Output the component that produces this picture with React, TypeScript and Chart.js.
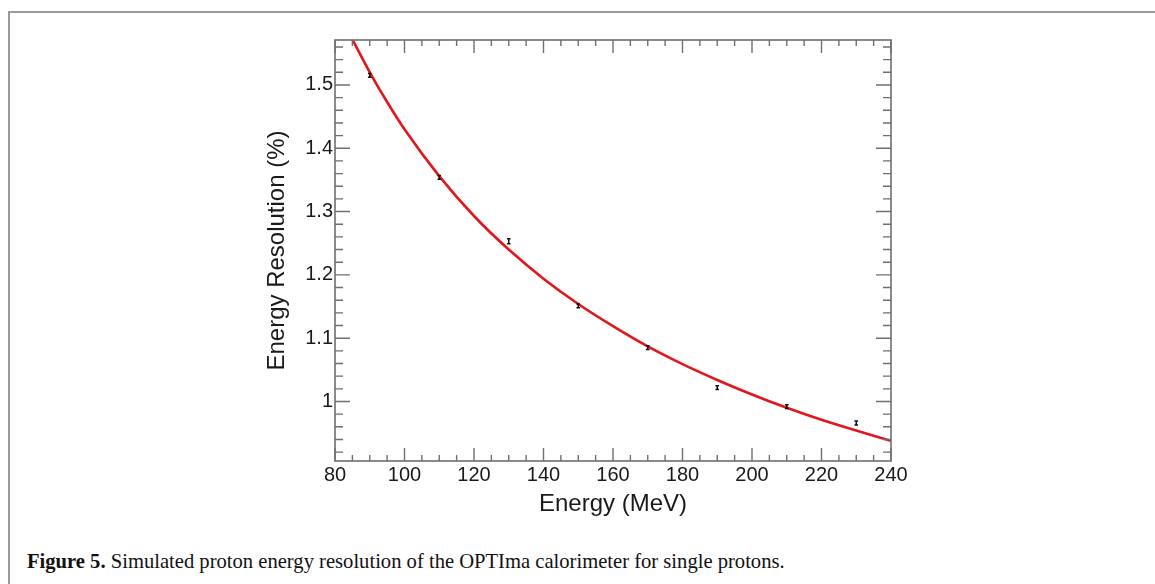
import React, { useEffect, useRef } from "react";
import { Chart, registerables } from "chart.js";

Chart.register(...registerables);

// Simulated points (energy in MeV, resolution in %)
const energies = [90, 110, 130, 150, 170, 190, 210, 230];
const resolution = [1.515, 1.354, 1.253, 1.151, 1.085, 1.022, 0.992, 0.966];
const resolutionErrors = [0.003, 0.003, 0.004, 0.003, 0.003, 0.003, 0.003, 0.003];

// Fit curve
const fitEnergy = [85, 90, 95, 100, 110, 120, 130, 140, 150, 160, 170, 180, 190, 200, 210, 220, 230, 240];
const fitResolution = [1.572, 1.52, 1.473, 1.43, 1.356, 1.293, 1.24, 1.194, 1.154, 1.119, 1.087, 1.059, 1.034, 1.011, 0.99, 0.971, 0.954, 0.938];

// Axis ticks
const xTickValues = [80, 100, 120, 140, 160, 180, 200, 220, 240];
const xTickLabels = ["80", "100", "120", "140", "160", "180", "200", "220", "240"];
const xMinorTicks = [85, 90, 95, 105, 110, 115, 125, 130, 135, 145, 150, 155, 165, 170, 175, 185, 190, 195, 205, 210, 215, 225, 230, 235];
const yTickValues = [1.0, 1.1, 1.2, 1.3, 1.4, 1.5];
const yTickLabels = ["1", "1.1", "1.2", "1.3", "1.4", "1.5"];
const yMinorTicks = [0.92, 0.94, 0.96, 0.98, 1.02, 1.04, 1.06, 1.08, 1.12, 1.14, 1.16, 1.18, 1.22, 1.24, 1.26, 1.28, 1.32, 1.34, 1.36, 1.38, 1.42, 1.44, 1.46, 1.48, 1.52, 1.54, 1.56];

const X_MIN = 80;
const X_MAX = 240;
const Y_MIN = 0.906;
const Y_MAX = 1.571;

const SANS = "'Liberation Sans', Arial, Helvetica, sans-serif";
const FRAME_COLOR = "#6f6f6f";

const framePlugin = {
  id: "rootFrame",
  afterDatasetsDraw(chart: any) {
    const { ctx, chartArea, scales } = chart;
    const xs = scales.x;
    const ys = scales.y;
    const { left, right, top, bottom } = chartArea;
    ctx.save();

    // error bars
    ctx.strokeStyle = "#111";
    ctx.lineWidth = 1.5;
    energies.forEach((e, i) => {
      const px = xs.getPixelForValue(e);
      const y1 = ys.getPixelForValue(resolution[i] - resolutionErrors[i]);
      const y2 = ys.getPixelForValue(resolution[i] + resolutionErrors[i]);
      ctx.beginPath();
      ctx.moveTo(px, y1);
      ctx.lineTo(px, y2);
      ctx.moveTo(px - 1.8, y1);
      ctx.lineTo(px + 1.8, y1);
      ctx.moveTo(px - 1.8, y2);
      ctx.lineTo(px + 1.8, y2);
      ctx.stroke();
    });

    // frame
    ctx.strokeStyle = FRAME_COLOR;
    ctx.lineWidth = 1.6;
    ctx.strokeRect(left, top, right - left, bottom - top);

    // ticks
    ctx.lineWidth = 1.4;
    ctx.beginPath();
    const xTick = (v: number, len: number) => {
      const px = xs.getPixelForValue(v);
      ctx.moveTo(px, bottom);
      ctx.lineTo(px, bottom - len);
      ctx.moveTo(px, top);
      ctx.lineTo(px, top + len);
    };
    const yTick = (v: number, len: number) => {
      const py = ys.getPixelForValue(v);
      ctx.moveTo(left, py);
      ctx.lineTo(left + len, py);
      ctx.moveTo(right, py);
      ctx.lineTo(right - len, py);
    };
    xTickValues.forEach((v) => xTick(v, 13));
    xMinorTicks.forEach((v) => xTick(v, 6));
    yTickValues.forEach((v) => yTick(v, 15));
    yMinorTicks.forEach((v) => yTick(v, 8));
    ctx.stroke();
    ctx.restore();
  },
};

function EnergyChart() {
  const ref = useRef<HTMLCanvasElement | null>(null);
  useEffect(() => {
    if (!ref.current) return;
    const chart = new Chart(ref.current, {
      type: "scatter",
      data: {
        datasets: [
          {
            type: "line",
            data: fitEnergy.map((x, i) => ({ x, y: fitResolution[i] })),
            borderColor: "rgb(226, 22, 28)",
            borderWidth: 2.6,
            pointRadius: 0,
            fill: false,
            cubicInterpolationMode: "monotone",
            clip: 0,
          } as any,
          {
            type: "scatter",
            data: energies.map((x, i) => ({ x, y: resolution[i] })),
            pointRadius: 0,
            backgroundColor: "#111",
          } as any,
        ],
      },
      options: {
        responsive: false,
        animation: false,
        devicePixelRatio: 1,
        layout: { padding: { left: 0, top: 40, right: 264, bottom: 0 } },
        plugins: { legend: { display: false }, tooltip: { enabled: false } },
        scales: {
          x: {
            type: "linear",
            min: X_MIN,
            max: X_MAX,
            afterBuildTicks: (s: any) => {
              s.ticks = xTickValues.map((v) => ({ value: v }));
            },
            afterFit: (s: any) => {
              s.height = 69;
            },
            ticks: {
              callback: (_v: any, i: number) => xTickLabels[i],
              font: { family: SANS, size: 20 },
              color: "#1a1a1a",
              padding: 2,
              maxRotation: 0,
              autoSkip: false,
            },
            grid: { display: false, drawTicks: false },
            border: { display: false },
            title: {
              display: true,
              text: "Energy (MeV)",
              font: { family: SANS, size: 24 },
              color: "#1a1a1a",
              padding: { top: 0, bottom: 11 },
            },
          },
          y: {
            type: "linear",
            min: Y_MIN,
            max: Y_MAX,
            afterBuildTicks: (s: any) => {
              s.ticks = yTickValues.map((v) => ({ value: v }));
            },
            afterFit: (s: any) => {
              s.width = 335;
            },
            ticks: {
              callback: (_v: any, i: number) => yTickLabels[i],
              font: { family: SANS, size: 20 },
              color: "#1a1a1a",
              padding: 2,
              autoSkip: false,
            },
            grid: { display: false, drawTicks: false },
            border: { display: false },
            title: {
              display: true,
              text: "Energy Resolution (%)",
              font: { family: SANS, size: 24 },
              color: "#1a1a1a",
              padding: { top: 263, bottom: 0 },
            },
          },
        },
      } as any,
      plugins: [framePlugin],
    });
    return () => chart.destroy();
  }, []);
  return (
    <canvas
      ref={ref}
      width={1155}
      height={530}
      style={{ position: "absolute", left: 0, top: 0, width: 1155, height: 530 }}
    />
  );
}

export default function App() {
  return (
    <div
      style={{
        position: "absolute",
        left: 0,
        top: 0,
        width: 1155,
        height: 584,
        overflow: "hidden",
        background: "#fff",
      }}
    >
      <div
        style={{
          position: "absolute",
          left: 8,
          top: 11,
          width: 1200,
          height: 700,
          borderTop: "2px solid #999",
          borderLeft: "2px solid #999",
        }}
      />
      <EnergyChart />
      <div
        style={{
          position: "absolute",
          left: 27,
          top: 551,
          fontFamily: "'Liberation Serif', 'Times New Roman', serif",
          fontSize: 20.6,
          lineHeight: "20px",
          color: "#111",
          whiteSpace: "nowrap",
        }}
      >
        <b>Figure 5.</b> Simulated proton energy resolution of the OPTIma calorimeter for single protons.
      </div>
    </div>
  );
}
